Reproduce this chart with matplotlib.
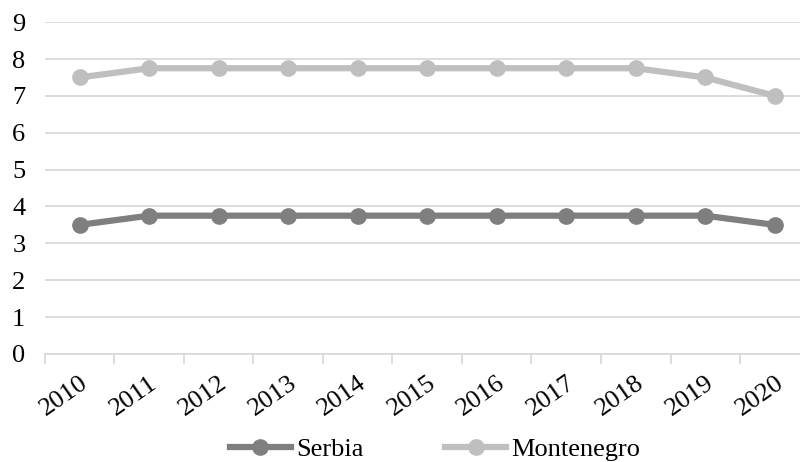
import matplotlib.pyplot as plt

plt.rcParams['font.family'] = 'Liberation Serif'

# data
years = ['2010', '2011', '2012', '2013', '2014', '2015', '2016', '2017', '2018', '2019', '2020']
serbia = [3.5, 3.75, 3.75, 3.75, 3.75, 3.75, 3.75, 3.75, 3.75, 3.75, 3.5]
montenegro = [7.5, 7.75, 7.75, 7.75, 7.75, 7.75, 7.75, 7.75, 7.75, 7.5, 7.0]

fig = plt.figure(figsize=(8, 4.62), dpi=100)
# axes run slightly past the right edge, like the cropped original
ax = fig.add_axes([0.056, 0.234, 0.956, 0.718])

x = range(len(years))
ax.plot(x, serbia, color='#7f7f7f', lw=4.5, marker='o', ms=11, label='Serbia', zorder=3)
ax.plot(x, montenegro, color='#bfbfbf', lw=4.5, marker='o', ms=11, label='Montenegro', zorder=3)

ax.set_ylim(0, 9)
ax.set_xlim(-0.5, len(years) - 0.5)
ax.set_yticks(range(10))
ax.grid(axis='y', color='#d9d9d9', lw=1.3)
ax.set_axisbelow(True)

for s in ['top', 'right', 'left']:
    ax.spines[s].set_visible(False)
ax.spines['bottom'].set_color('#d9d9d9')
ax.spines['bottom'].set_linewidth(1.3)

ax.set_xticks(list(x))
ax.set_xticklabels(years, rotation=35, ha='right', va='top', rotation_mode='anchor', fontsize=19)
ax.set_xticks([i - 0.5 for i in range(len(years) + 1)], minor=True)
ax.tick_params(axis='x', which='major', length=0, pad=13)
ax.tick_params(axis='x', which='minor', length=7, color='#d9d9d9', width=1.3)
ax.tick_params(axis='y', length=0, labelsize=19, pad=14)

fig.legend(loc='center', bbox_to_anchor=(0.544, 0.028), ncol=2, frameon=False,
           fontsize=19, handlelength=2.3, columnspacing=3.1, handletextpad=0.2,
           borderpad=0.2)

fig.savefig('out.png')
